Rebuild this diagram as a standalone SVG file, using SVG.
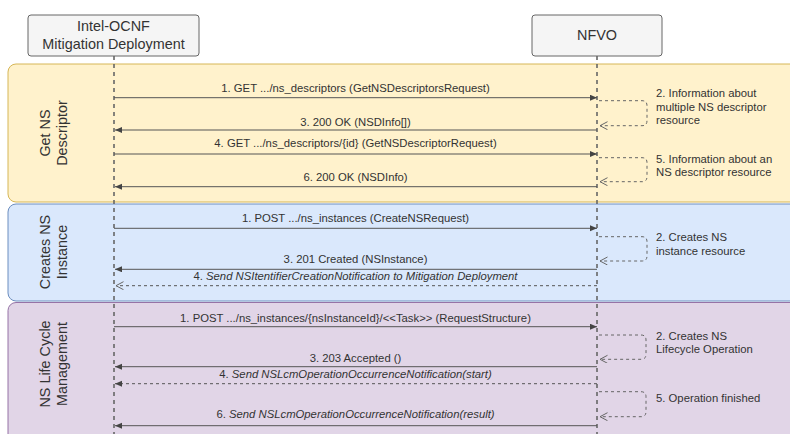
<svg xmlns="http://www.w3.org/2000/svg" width="790" height="434" viewBox="0 0 790 434">
<style>
text{font-family:"Liberation Sans",Arial,Helvetica,sans-serif;fill:#333;}
.msg{font-size:11.3px;text-anchor:middle;}
.note{font-size:11.3px;}
.hdr{font-size:14.4px;text-anchor:middle;}
.sec{font-size:14.4px;text-anchor:middle;}
.box{fill:#f5f5f5;stroke:#666;stroke-width:1;}
.life{stroke:#666;stroke-width:1.6;stroke-dasharray:4 4;fill:none;}
.line{stroke:#555;stroke-width:1;fill:none;}
.dash{stroke:#555;stroke-width:1;stroke-dasharray:3 3;fill:none;}
.loop{stroke:#666;stroke-width:1;stroke-dasharray:3 3;fill:none;}
.it{font-style:italic;}
</style>
<defs>
<marker id="fill" markerUnits="userSpaceOnUse" markerWidth="8" markerHeight="7" refX="7" refY="3" orient="auto">
<path d="M0,0 L7,3 L0,6 z" fill="#444"/>
</marker>
<marker id="open" markerUnits="userSpaceOnUse" markerWidth="9" markerHeight="10" refX="7.5" refY="4" orient="auto">
<path d="M0,0 L7.5,4 L0,8" fill="none" stroke="#666" stroke-width="1"/>
</marker>
</defs>

<g id="band-get">
<rect x="8" y="64" width="800" height="138" rx="8" fill="#fff2cc" stroke="#d6b656"/>
<text class="sec" transform="translate(50,133) rotate(-90)">Get NS</text>
<text class="sec" transform="translate(66.5,133) rotate(-90)">Descriptor</text>
</g>
<g id="band-create">
<rect x="8" y="204" width="800" height="97" rx="8" fill="#dae8fc" stroke="#6c8ebf"/>
<text class="sec" transform="translate(50,252) rotate(-90)">Creates NS</text>
<text class="sec" transform="translate(66.5,252) rotate(-90)">Instance</text>
</g>
<g id="band-lcm">
<rect x="8" y="302.5" width="800" height="150" rx="8" fill="#e1d5e7" stroke="#9673a6"/>
<text class="sec" transform="translate(50,364) rotate(-90)">NS Life Cycle</text>
<text class="sec" transform="translate(66.5,364) rotate(-90)">Management</text>
</g>

<g id="node-mitigation">
<rect class="box" x="28" y="15" width="171" height="41" rx="3"/>
<text class="hdr" x="113.5" y="31">Intel-OCNF</text>
<text class="hdr" x="113.5" y="48.5">Mitigation Deployment</text>
</g>
<g id="node-nfvo">
<rect class="box" x="532" y="15" width="130" height="41" rx="3"/>
<text class="hdr" x="597" y="39.5">NFVO</text>
</g>

<g id="connectors">
<line class="life" x1="114" y1="56" x2="114" y2="434"/>
<line class="life" x1="597" y1="56" x2="597" y2="434"/>

<line class="line" x1="114" y1="97.7" x2="597" y2="97.7" marker-end="url(#fill)"/>
<path class="loop" d="M599,100.7 H642 Q647,100.7 647,105.7 V120.7 Q647,125.7 642,125.7 H600" marker-end="url(#open)"/>
<line class="line" x1="597" y1="130" x2="115" y2="130" marker-end="url(#fill)"/>
<line class="line" x1="114" y1="154" x2="597" y2="154" marker-end="url(#fill)"/>
<path class="loop" d="M599,157.7 H642 Q647,157.7 647,162.7 V176.7 Q647,181.7 642,181.7 H600" marker-end="url(#open)"/>
<line class="line" x1="597" y1="186.7" x2="115" y2="186.7" marker-end="url(#fill)"/>

<line class="line" x1="114" y1="228.3" x2="597" y2="228.3" marker-end="url(#fill)"/>
<path class="loop" d="M599,236.7 H642 Q647,236.7 647,241.7 V256 Q647,261 642,261 H600" marker-end="url(#open)"/>
<line class="line" x1="597" y1="269.3" x2="115" y2="269.3" marker-end="url(#fill)"/>
<line class="dash" x1="597" y1="285.7" x2="116" y2="285.7" marker-end="url(#open)"/>

<line class="line" x1="114" y1="326.7" x2="597" y2="326.7" marker-end="url(#fill)"/>
<path class="loop" d="M599,335 H641 Q646,335 646,340 V354.3 Q646,359.3 641,359.3 H600" marker-end="url(#open)"/>
<line class="line" x1="597" y1="366.7" x2="115" y2="366.7" marker-end="url(#fill)"/>
<line class="dash" x1="597" y1="383.7" x2="115" y2="383.7" marker-end="url(#fill)"/>
<path class="loop" d="M599,391.7 H641 Q646,391.7 646,396.7 V411.7 Q646,416.7 641,416.7 H600" marker-end="url(#open)"/>
<line class="line" x1="597" y1="425.7" x2="115" y2="425.7" marker-end="url(#fill)"/>
</g>

<g id="labels">
<text class="msg" x="355.5" y="92.3">1. GET .../ns_descriptors (GetNSDescriptorsRequest)</text>
<text class="msg" x="355.5" y="126.3">3. 200 OK (NSDInfo[])</text>
<text class="msg" x="355.5" y="147.3">4. GET .../ns_descriptors/{id} (GetNSDescriptorRequest)</text>
<text class="msg" x="355.5" y="181.3">6. 200 OK (NSDInfo)</text>
<text class="note" x="656" y="97.3">2. Information about</text>
<text class="note" x="656" y="110.8">multiple NS descriptor</text>
<text class="note" x="656" y="124.3">resource</text>
<text class="note" x="656" y="163">5. Information about an</text>
<text class="note" x="656" y="175.5">NS descriptor resource</text>

<text class="msg" x="355.5" y="222.3">1. POST .../ns_instances (CreateNSRequest)</text>
<text class="msg" x="355.5" y="263.3">3. 201 Created (NSInstance)</text>
<text class="msg" x="355.5" y="280">4. <tspan class="it">Send NSItentifierCreationNotification to Mitigation Deployment</tspan></text>
<text class="note" x="656" y="241.3">2. Creates NS</text>
<text class="note" x="656" y="255">instance resource</text>

<text class="msg" x="355.5" y="321.7">1. POST .../ns_instances/{nsInstanceId}/&lt;&lt;Task&gt;&gt; (RequestStructure)</text>
<text class="msg" x="355.5" y="361.7">3. 203 Accepted ()</text>
<text class="msg" x="355.5" y="378.3">4. <tspan class="it">Send NSLcmOperationOccurrenceNotification(start)</tspan></text>
<text class="msg" x="355.5" y="418.3">6. <tspan class="it">Send NSLcmOperationOccurrenceNotification(result)</tspan></text>
<text class="note" x="656" y="339.7">2. Creates NS</text>
<text class="note" x="656" y="353">Lifecycle Operation</text>
<text class="note" x="656" y="402.3">5. Operation finished</text>
</g>
</svg>
